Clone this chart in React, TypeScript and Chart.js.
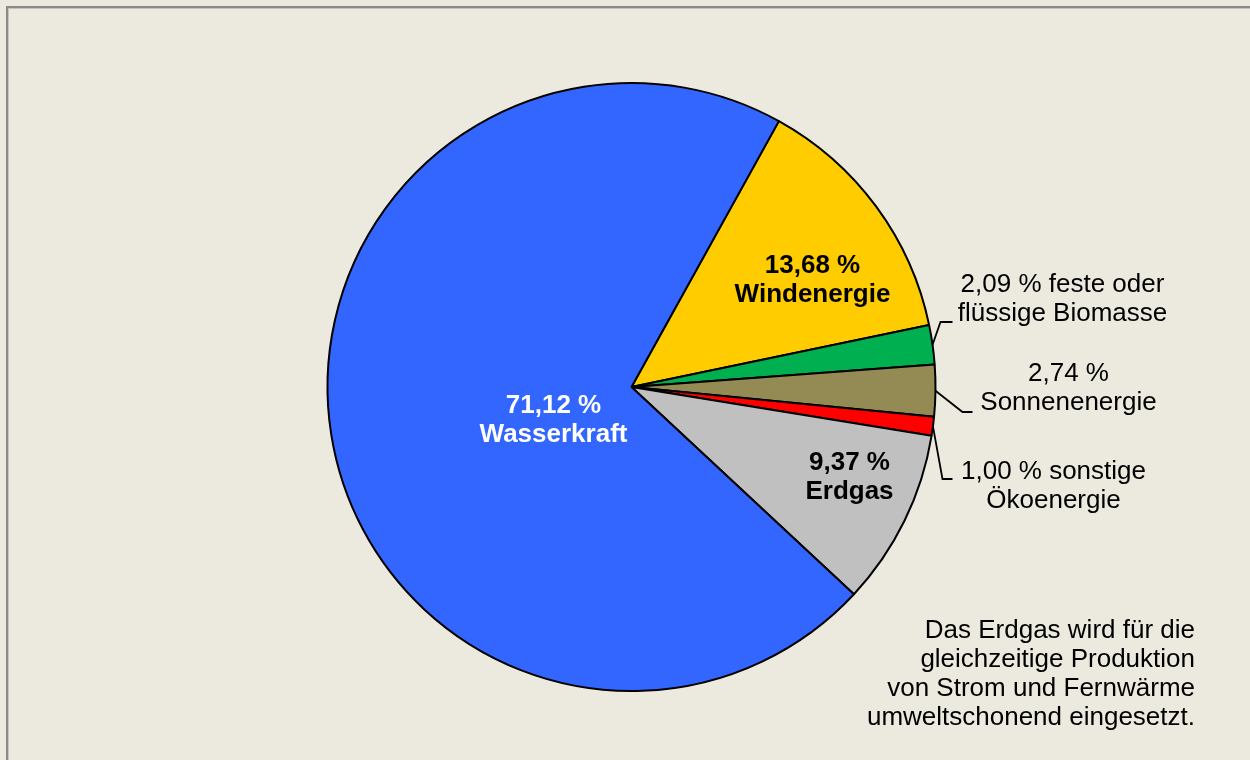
import React, { useEffect, useRef } from "react";
import { Chart, registerables } from "chart.js";

Chart.register(...registerables);

// ---- data ----
const categories = [
  "Windenergie",
  "feste oder flüssige Biomasse",
  "Sonnenenergie",
  "sonstige Ökoenergie",
  "Erdgas",
  "Wasserkraft",
];
const shares = [13.68, 2.09, 2.74, 1.0, 9.37, 71.12];
const sliceColors = ["#FFCC00", "#00B050", "#948A54", "#FF0000", "#C0C0C0", "#3366FF"];
// label text: first line starts with the percentage
const labelSuffixFirstLine = ["", " feste oder", "", " sonstige", "", ""];
const labelSecondLine = ["Windenergie", "flüssige Biomasse", "Sonnenenergie", "Ökoenergie", "Erdgas", "Wasserkraft"];
const footnoteLines = [
  "Das Erdgas wird für die",
  "gleichzeitige Produktion",
  "von Strom und Fernwärme",
  "umweltschonend eingesetzt.",
];

const fmt = (v: number) => v.toFixed(2).replace(".", ",") + " %";

// ---- label layout (offsets from pie center) ----
const labelPlacement = [
  { dx: 181, dy: -107, bold: true, color: "#000000" },
  { dx: 431, dy: -88, bold: false, color: "#000000", leader: [[309, -65], [321, -65]] },
  { dx: 437, dy: 1, bold: false, color: "#000000", leader: [[331, 25], [341, 25]] },
  { dx: 422, dy: 99, bold: false, color: "#000000", leader: [[311, 92], [321, 92]] },
  { dx: 218, dy: 90, bold: true, color: "#000000" },
  { dx: -78, dy: 33, bold: true, color: "#FFFFFF" },
];

const FONT = "'Liberation Sans', Arial, Helvetica, sans-serif";
const FS = 26;
const LH = 29;

const labelPlugin = {
  id: "pieLabels",
  afterDatasetsDraw(chart: any) {
    const ctx = chart.ctx;
    const meta = chart.getDatasetMeta(0);
    ctx.save();
    meta.data.forEach((arc: any, i: number) => {
      const p = arc.getProps(["x", "y", "startAngle", "endAngle", "outerRadius"], true);
      const cx = p.x;
      const cy = p.y;
      const place = labelPlacement[i];
      const mid = (p.startAngle + p.endAngle) / 2;
      if (place.leader) {
        ctx.beginPath();
        ctx.strokeStyle = "#000";
        ctx.lineWidth = 1.8;
        ctx.moveTo(cx + Math.cos(mid) * p.outerRadius, cy + Math.sin(mid) * p.outerRadius);
        place.leader.forEach((pt: number[]) => ctx.lineTo(cx + pt[0], cy + pt[1]));
        ctx.stroke();
      }
      const lines = [fmt(shares[i]) + labelSuffixFirstLine[i], labelSecondLine[i]];
      ctx.font = `${place.bold ? "bold " : ""}${FS}px ${FONT}`;
      ctx.fillStyle = place.color;
      ctx.textAlign = "center";
      ctx.textBaseline = "middle";
      const x = cx + place.dx;
      const y0 = cy + place.dy - ((lines.length - 1) * LH) / 2;
      lines.forEach((t, k) => ctx.fillText(t, x, y0 + k * LH));
    });
    // footnote
    ctx.font = `${FS}px ${FONT}`;
    ctx.fillStyle = "#000";
    ctx.textAlign = "right";
    ctx.textBaseline = "middle";
    footnoteLines.forEach((t, k) => ctx.fillText(t, 1195, 631 + k * LH));
    ctx.restore();
  },
};

export default function App() {
  const ref = useRef<HTMLCanvasElement | null>(null);
  useEffect(() => {
    document.body.style.margin = "0";
    const chart = new Chart(ref.current as HTMLCanvasElement, {
      type: "pie",
      data: {
        labels: categories,
        datasets: [
          {
            data: shares,
            backgroundColor: sliceColors,
            borderColor: "#000000",
            borderWidth: 2,
          },
        ],
      },
      options: {
        animation: false,
        responsive: false,
        rotation: 29,
        layout: { padding: { left: 326, top: 82, right: 313, bottom: 68 } },
        plugins: {
          legend: { display: false },
          tooltip: { enabled: false },
          title: { display: false },
        },
      },
      plugins: [labelPlugin],
    });
    return () => chart.destroy();
  }, []);
  return (
    <div
      style={{
        position: "fixed",
        left: 0,
        top: 0,
        width: 1250,
        height: 760,
        background: "#ECEADF",
        overflow: "hidden",
      }}
    >
      <div
        style={{
          position: "absolute",
          left: 6,
          top: 6,
          width: 1300,
          height: 800,
          borderLeft: "2px solid #8A8A86",
          borderTop: "2px solid #8A8A86",
          boxShadow: "inset 1px 1px 0 #C4C3BC",
        }}
      />
      <canvas ref={ref} width={1250} height={760} style={{ position: "absolute", left: 0, top: 0 }} />
    </div>
  );
}
